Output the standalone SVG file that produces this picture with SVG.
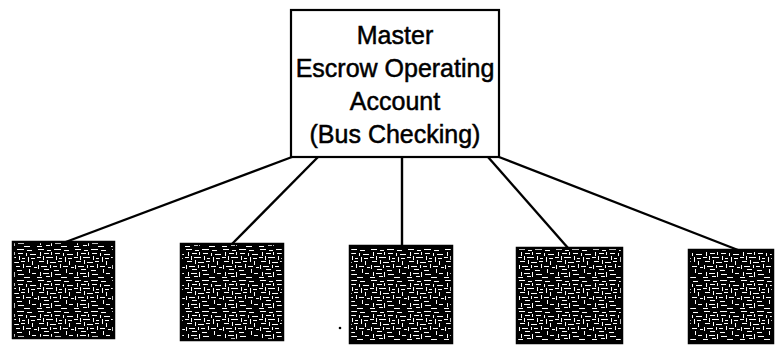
<svg xmlns="http://www.w3.org/2000/svg" width="778" height="345" viewBox="0 0 778 345">
<style>
.master{fill:#fff;stroke:#000;stroke-width:2.2}
.lbl{font-family:"Liberation Sans",Arial,sans-serif;font-size:25px;fill:#000;stroke:#000;stroke-width:0.5;text-anchor:middle}
.conn line{stroke:#000;stroke-width:2.4}
.sub{fill:url(#noise);stroke:#000;stroke-width:2.5}
</style>
<defs>
<pattern id="noise" width="37" height="31" patternUnits="userSpaceOnUse">
<rect width="37" height="31" fill="#000"/>
<g fill="#fff">
<rect x="1" y="1" width="6" height="1"/>
<rect x="10" y="2" width="4" height="1"/>
<rect x="17" y="1" width="7" height="1"/>
<rect x="27" y="2" width="5" height="1"/>
<rect x="3" y="4" width="1" height="4"/>
<rect x="7" y="5" width="5" height="1"/>
<rect x="14" y="4" width="1" height="3"/>
<rect x="18" y="5" width="5" height="1"/>
<rect x="26" y="5" width="1" height="3"/>
<rect x="30" y="6" width="6" height="1"/>
<rect x="0" y="9" width="4" height="1"/>
<rect x="6" y="8" width="1" height="4"/>
<rect x="9" y="9" width="7" height="1"/>
<rect x="19" y="8" width="1" height="4"/>
<rect x="22" y="10" width="3" height="1"/>
<rect x="28" y="9" width="1" height="5"/>
<rect x="31" y="10" width="4" height="1"/>
<rect x="2" y="13" width="5" height="1"/>
<rect x="10" y="12" width="1" height="4"/>
<rect x="13" y="14" width="6" height="1"/>
<rect x="21" y="13" width="4" height="1"/>
<rect x="32" y="13" width="1" height="4"/>
<rect x="1" y="17" width="1" height="4"/>
<rect x="4" y="18" width="6" height="1"/>
<rect x="13" y="17" width="1" height="3"/>
<rect x="16" y="18" width="4" height="1"/>
<rect x="23" y="16" width="1" height="4"/>
<rect x="26" y="18" width="5" height="1"/>
<rect x="34" y="19" width="3" height="1"/>
<rect x="7" y="21" width="5" height="1"/>
<rect x="17" y="22" width="5" height="1"/>
<rect x="29" y="21" width="1" height="4"/>
<rect x="3" y="24" width="1" height="4"/>
<rect x="6" y="25" width="6" height="1"/>
<rect x="14" y="24" width="1" height="5"/>
<rect x="18" y="26" width="6" height="1"/>
<rect x="32" y="25" width="4" height="1"/>
<rect x="0" y="29" width="5" height="1"/>
<rect x="9" y="28" width="4" height="1"/>
<rect x="24" y="29" width="6" height="1"/>
</g>
</pattern>
</defs>
<g id="connectors" class="conn">
<line x1="292" y1="157" x2="63" y2="243"/>
<line x1="318" y1="157" x2="232" y2="244"/>
<line x1="402" y1="157" x2="402" y2="246"/>
<line x1="488" y1="157" x2="568" y2="248"/>
<line x1="499" y1="157" x2="738" y2="250"/>
</g>
<g id="master">
<rect class="master" x="291" y="10" width="208" height="147"/>
<text class="lbl" x="395" y="44">Master</text>
<text class="lbl" x="395" y="77">Escrow Operating</text>
<text class="lbl" x="395" y="110">Account</text>
<text class="lbl" x="395" y="143">(Bus Checking)</text>
</g>
<g id="sub1"><rect class="sub" x="13" y="242" width="101" height="96"/></g>
<g id="sub2"><rect class="sub" x="181" y="244" width="102" height="96"/></g>
<g id="sub3"><rect class="sub" x="350" y="246" width="102" height="97"/></g>
<g id="sub4"><rect class="sub" x="517" y="248" width="105" height="95"/></g>
<g id="sub5"><rect class="sub" x="689" y="250" width="84" height="93"/></g>
<circle cx="340" cy="328" r="1.3" fill="#000"/>
</svg>
